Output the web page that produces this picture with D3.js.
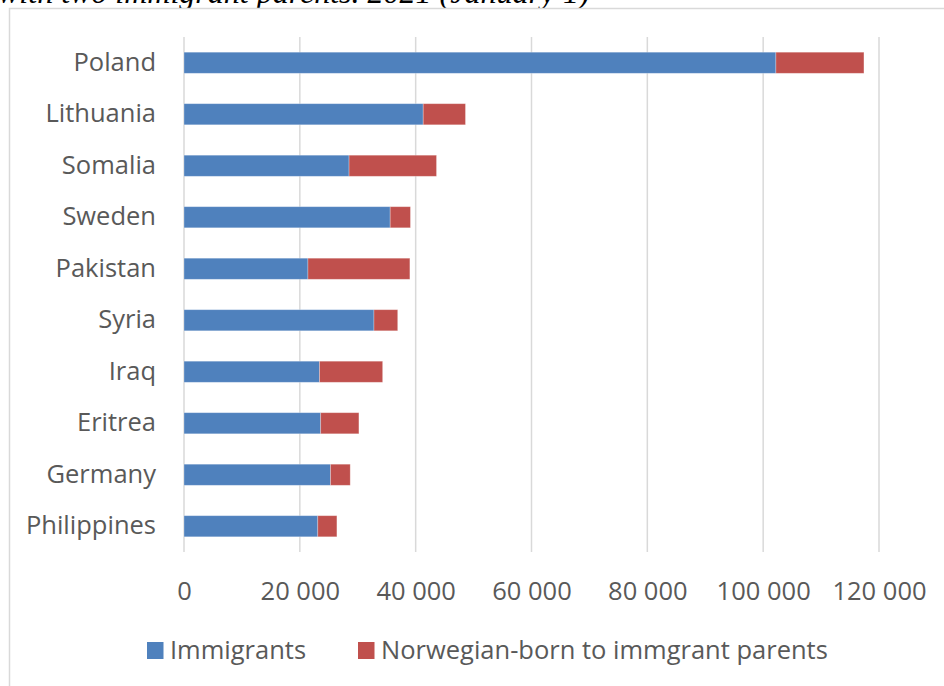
<!DOCTYPE html>
<html>
<head>
<meta charset="utf-8">
<script src="https://cdn.jsdelivr.net/npm/d3@7"></script>
<style>
  html, body { margin: 0; padding: 0; background: #fff; }
  svg { display: block; }
</style>
</head>
<body>
<svg id="chart" width="944" height="686"></svg>
<script>
const categories = ["Poland", "Lithuania", "Somalia", "Sweden", "Pakistan", "Syria", "Iraq", "Eritrea", "Germany", "Philippines"];
const immigrants = [102200, 41300, 28500, 35600, 21400, 32800, 23400, 23600, 25300, 23100];
const norwegianBorn = [15200, 7300, 15100, 3500, 17600, 4100, 10900, 6600, 3400, 3300];
const seriesNames = ["Immigrants", "Norwegian-born to immgrant parents"];
const seriesColors = ["#4F81BD", "#C0504D"];
const xTicks = [0, 20000, 40000, 60000, 80000, 100000, 120000];
const titleText = "with two immigrant parents. 2021 (January 1)";

const svg = d3.select("#chart");
const fontSans = "'Open Sans', 'Noto Sans', sans-serif";
const fs = 25.5;

// Title (partly above the visible area, as in the reference)
svg.append("text")
  .attr("x", -2).attr("y", 3)
  .attr("font-family", "'Liberation Serif', 'Times New Roman', serif")
  .attr("font-style", "italic")
  .attr("font-size", 32)
  .attr("fill", "#000")
  .text(titleText);

// Chart frame
svg.append("rect")
  .attr("x", 9.5).attr("y", 8.5)
  .attr("width", 960).attr("height", 700)
  .attr("fill", "#fff")
  .attr("stroke", "#d9d9d9").attr("stroke-width", 1.5);

const x = d3.scaleLinear().domain([0, 120000]).range([184, 879]);
const y = d3.scaleBand().domain(categories).range([37, 552]).paddingInner(0.59).paddingOuter(0.295);

// Gridlines
svg.append("g").selectAll("line").data(xTicks).join("line")
  .attr("x1", d => x(d)).attr("x2", d => x(d))
  .attr("y1", 37).attr("y2", 552)
  .attr("stroke", "#d9d9d9").attr("stroke-width", 1.5);

// Stacked data
const rows = categories.map((c, i) => ({ cat: c, a: immigrants[i], b: norwegianBorn[i] }));
const stack = d3.stack().keys(["a", "b"])(rows);

svg.append("g").selectAll("g").data(stack).join("g")
  .attr("fill", (d, i) => seriesColors[i])
  .selectAll("rect").data(d => d).join("rect")
  .attr("x", d => x(d[0]))
  .attr("y", d => y(d.data.cat))
  .attr("width", d => x(d[1]) - x(d[0]))
  .attr("height", y.bandwidth())
  .attr("stroke", "#ffffff").attr("stroke-opacity", 0.35).attr("stroke-width", 0.8);

// Y axis (category labels)
const yAxis = svg.append("g")
  .attr("transform", "translate(184,0)")
  .call(d3.axisLeft(y).tickSize(0).tickPadding(28));
yAxis.select(".domain").remove();
yAxis.selectAll("text")
  .attr("font-family", fontSans).attr("font-size", fs).attr("fill", "#595959");

// X axis
const fmt = d => d3.format(",")(d).replace(/,/g, " ");
const xAxis = svg.append("g")
  .attr("transform", "translate(0,552)")
  .call(d3.axisBottom(x).tickValues(xTicks).tickFormat(fmt).tickSize(0).tickPadding(30));
xAxis.select(".domain").remove();
xAxis.selectAll("text")
  .attr("font-family", fontSans).attr("font-size", fs).attr("fill", "#595959");

// Legend
const legendX = [147, 358];
const lg = svg.append("g").selectAll("g").data(seriesNames).join("g")
  .attr("transform", (d, i) => `translate(${legendX[i]},642)`);
lg.append("rect").attr("width", 16.5).attr("height", 17)
  .attr("fill", (d, i) => seriesColors[i]);
lg.append("text").attr("x", 23).attr("y", 8.5).attr("dy", "0.35em")
  .attr("font-family", fontSans).attr("font-size", fs).attr("fill", "#595959")
  .text(d => d);
</script>
</body>
</html>
